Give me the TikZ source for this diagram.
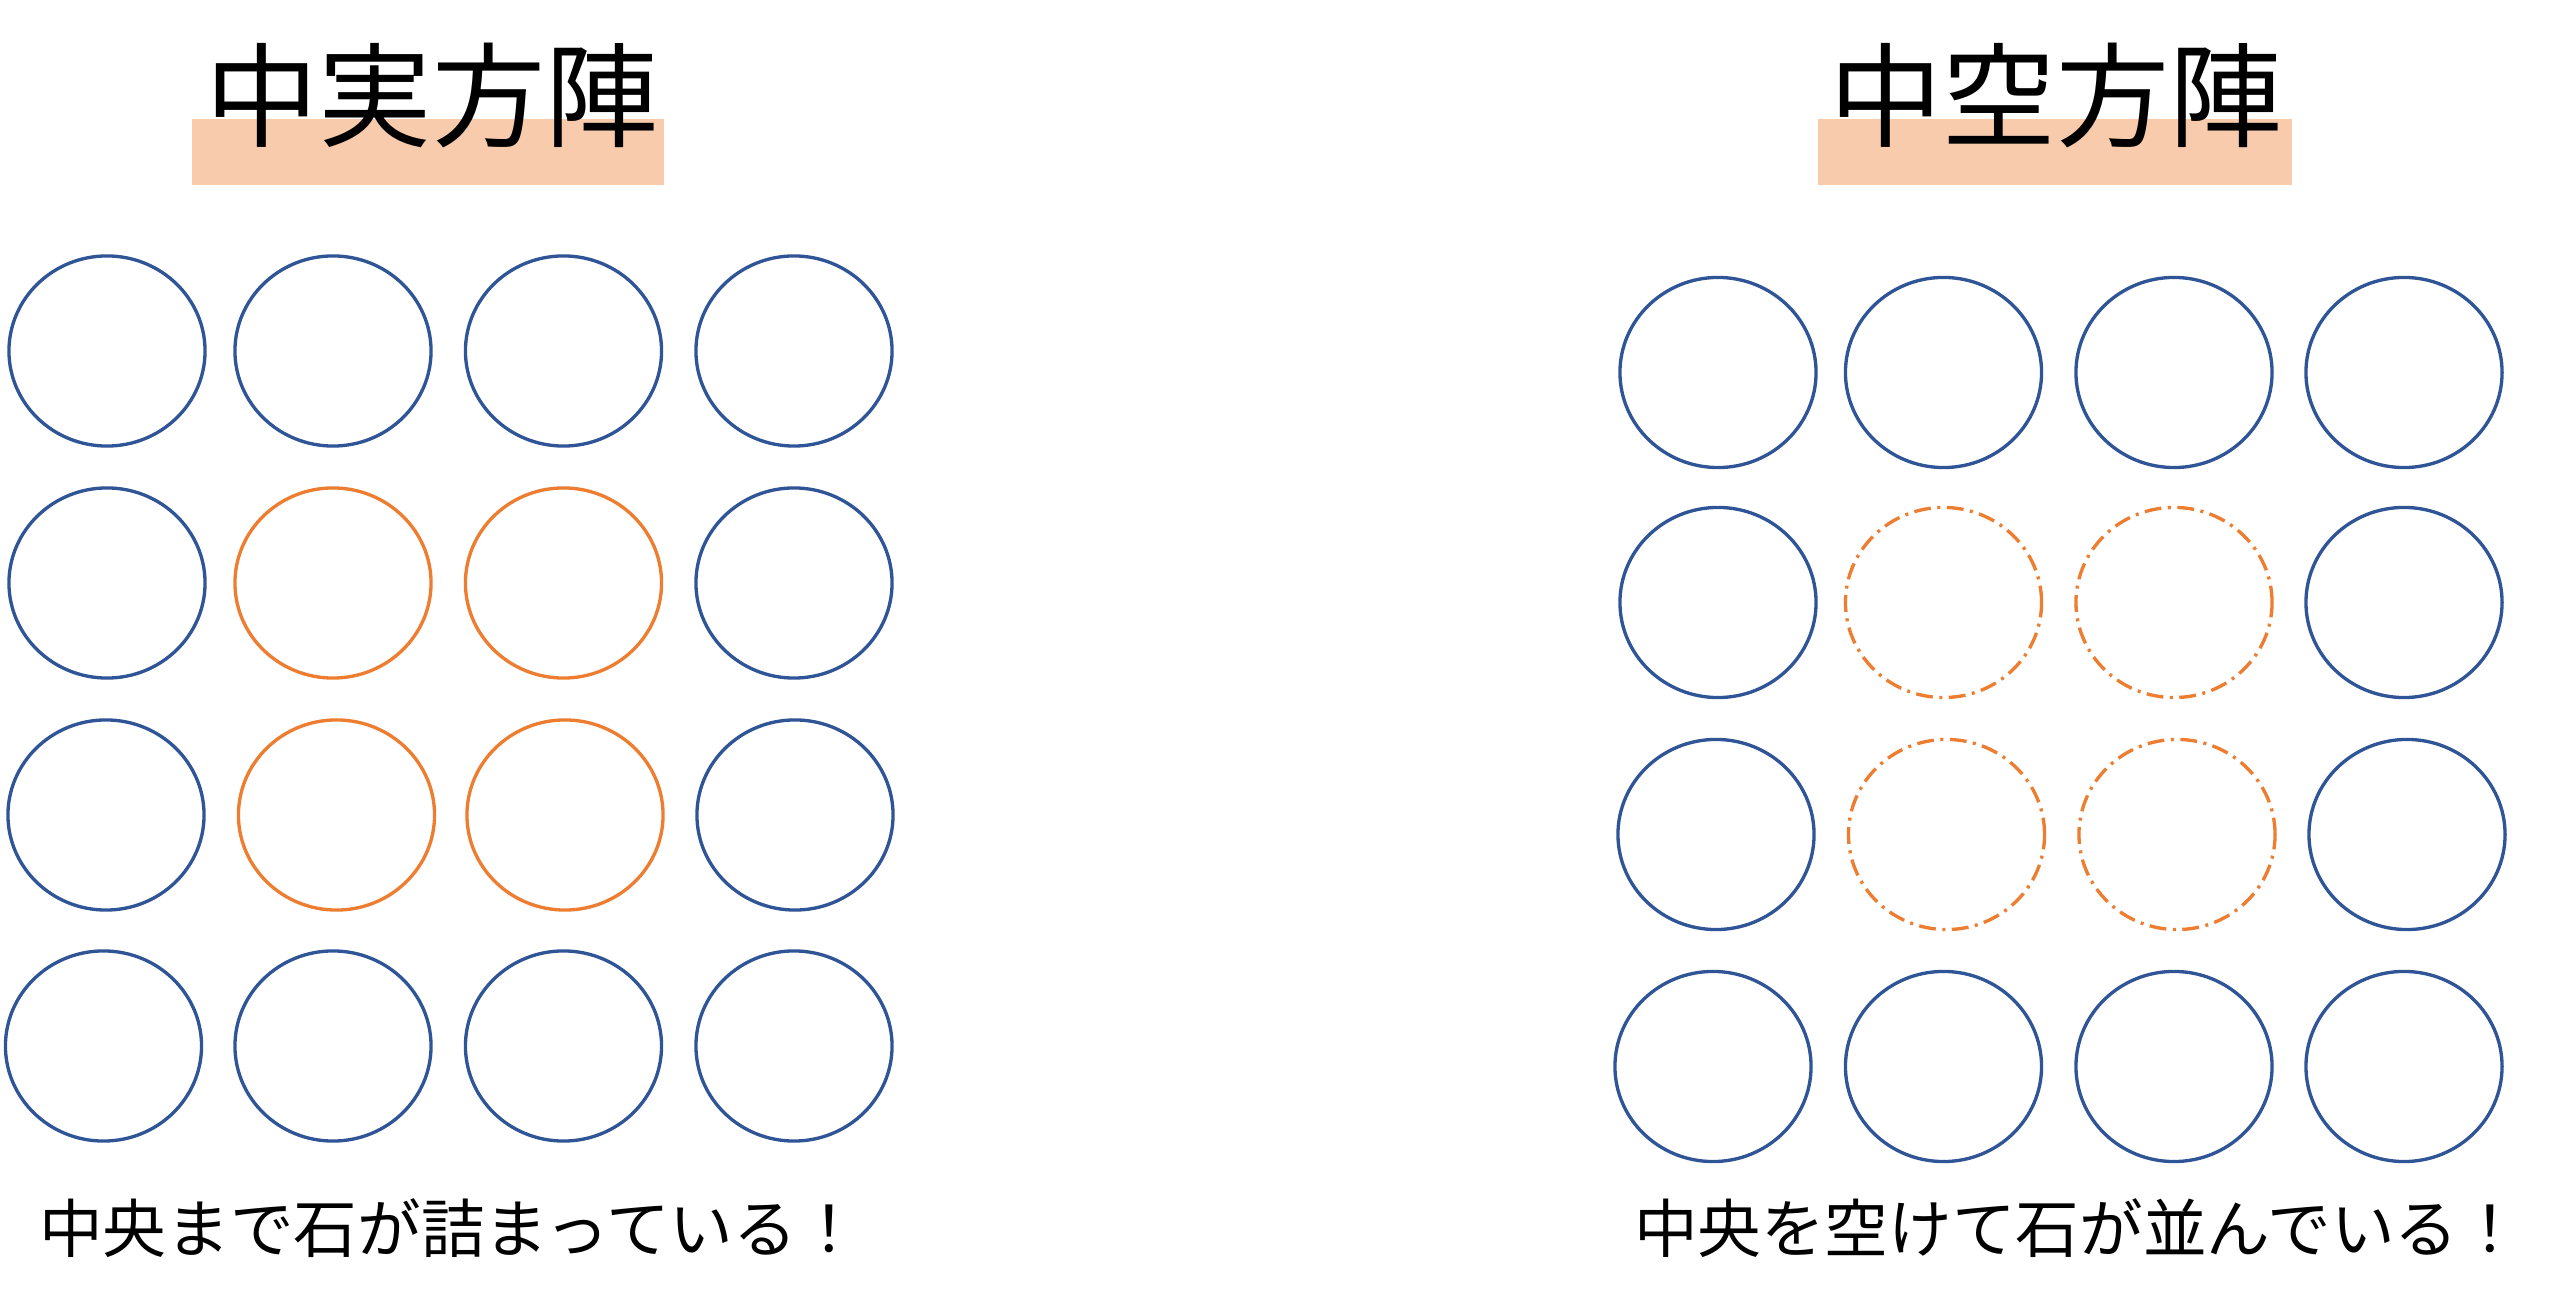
\documentclass[tikz,border=0pt]{standalone}
\usepackage{fontspec}
\newfontfamily\jp{Noto Sans CJK JP}
\usetikzlibrary{shapes.geometric}
\definecolor{stoneblue}{HTML}{2F5597}
\definecolor{stoneorange}{HTML}{ED7D31}
\definecolor{barfill}{HTML}{F8CBAD}
\tikzset{
  stone/.style={draw=stoneblue, ellipse, line width=0.95pt, inner sep=0pt, minimum width=1.96cm, minimum height=1.90cm},
  inner/.style={stone, draw=stoneorange},
  hollow/.style={stone, draw=stoneorange, dash pattern=on 4.8pt off 1.85pt on 0.85pt off 1.85pt},
  titlebar/.style={fill=barfill, draw=none},
  titletext/.style={font=\jp\fontsize{32.2pt}{36pt}\selectfont, inner sep=0pt, anchor=base},
  caption/.style={font=\jp\fontsize{18.1pt}{20pt}\selectfont, inner sep=0pt, anchor=base west},
}
\begin{document}
\begin{tikzpicture}[x=0.01cm, y=-0.01cm]
\useasboundingbox (0,0) rectangle (2560,1310);
% title bars
\fill[titlebar] (192,119) rectangle (664,185);
\fill[titlebar] (1818,119) rectangle (2292,185);
\node[titletext] (tl) at (432,139) {中実方陣};
\node[titletext] (tr) at (2056,139) {中空方陣};
% left grid (solid)
\node[stone] (a11) at (107,351) {};
\node[stone] (a12) at (333,351) {};
\node[stone] (a13) at (563.5,351) {};
\node[stone] (a14) at (794,351) {};
\node[stone] (a21) at (107,583) {};
\node[inner] (a22) at (333,583) {};
\node[inner] (a23) at (563.5,583) {};
\node[stone] (a24) at (794,583) {};
\node[stone] (a31) at (106,815) {};
\node[inner] (a32) at (336.5,815) {};
\node[inner] (a33) at (565,815) {};
\node[stone] (a34) at (795,815) {};
\node[stone] (a41) at (103.5,1046) {};
\node[stone] (a42) at (333,1046) {};
\node[stone] (a43) at (563.5,1046) {};
\node[stone] (a44) at (794,1046) {};
% right grid (hollow)
\node[stone] (b11) at (1718,372.5) {};
\node[stone] (b12) at (1943.5,372.5) {};
\node[stone] (b13) at (2174,372.5) {};
\node[stone] (b14) at (2404,372.5) {};
\node[stone] (b21) at (1718,602.5) {};
\node[hollow] (b22) at (1943.5,602.5) {};
\node[hollow] (b23) at (2174,602.5) {};
\node[stone] (b24) at (2404,602.5) {};
\node[stone] (b31) at (1716,834.5) {};
\node[hollow] (b32) at (1946.5,834.5) {};
\node[hollow] (b33) at (2177,834.5) {};
\node[stone] (b34) at (2407,834.5) {};
\node[stone] (b41) at (1713,1066.5) {};
\node[stone] (b42) at (1943.5,1066.5) {};
\node[stone] (b43) at (2174,1066.5) {};
\node[stone] (b44) at (2404,1066.5) {};
% captions
\node[caption] (cl) at (38.5,1252.5) {中央まで石が詰まっている！};
\node[caption] (cr) at (1633.3,1252.5) {中央を空けて石が並んでいる！};
\end{tikzpicture}
\end{document}
